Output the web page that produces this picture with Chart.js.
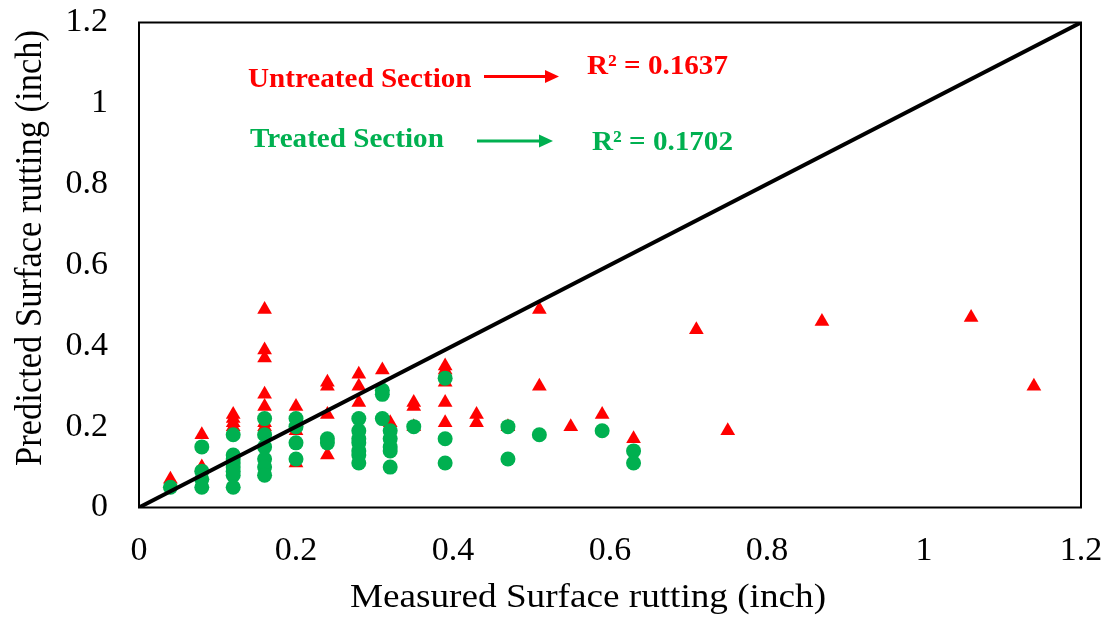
<!DOCTYPE html>
<html><head><meta charset="utf-8">
<script src="https://cdn.jsdelivr.net/npm/chart.js@4/dist/chart.umd.min.js"></script>
<style>html,body{margin:0;padding:0;background:#fff}</style>
</head><body>
<canvas id="c" width="1110" height="621"></canvas>
<script>
// Untreated section (red triangles)
const untreatedX = [0.04, 0.08,0.08, 0.12,0.12,0.12,0.12, 0.16,0.16,0.16,0.16,0.16,0.16,0.16,
  0.20,0.20,0.20,0.20, 0.24,0.24,0.24,0.24, 0.28,0.28,0.28, 0.31, 0.32, 0.35,0.35,0.35,
  0.39,0.39,0.39,0.39,0.39, 0.43,0.43, 0.47, 0.51,0.51, 0.55, 0.59, 0.63, 0.71, 0.75, 0.87, 1.06, 1.14];
const untreatedY = [0.07, 0.18,0.10, 0.23,0.22,0.21,0.20, 0.49,0.39,0.37,0.28,0.25,0.21,0.20,
  0.25,0.21,0.19,0.11, 0.31,0.30,0.23,0.13, 0.33,0.30,0.26, 0.34, 0.21, 0.26,0.25,0.20,
  0.35,0.34,0.31,0.26,0.21, 0.23,0.21, 0.20, 0.49,0.30, 0.20, 0.23, 0.17, 0.44, 0.19, 0.46, 0.47, 0.30];
// Treated section (green circles)
const treatedX = [0.04, 0.08,0.08,0.08,0.08, 0.12,0.12,0.12,0.12,0.12,0.12,0.12,0.12,
  0.16,0.16,0.16,0.16,0.16,0.16, 0.20,0.20,0.20,0.20, 0.24,0.24,
  0.28,0.28,0.28,0.28,0.28,0.28,0.28, 0.31,0.31,0.31, 0.32,0.32,0.32,0.32,0.32,
  0.35, 0.39,0.39,0.39, 0.47,0.47, 0.51, 0.59, 0.63,0.63];
const treatedY = [0.05, 0.15,0.09,0.07,0.05, 0.18,0.13,0.12,0.11,0.10,0.09,0.08,0.05,
  0.22,0.18,0.15,0.12,0.10,0.08, 0.22,0.20,0.16,0.12, 0.17,0.16,
  0.22,0.19,0.17,0.16,0.14,0.13,0.11, 0.29,0.28,0.22, 0.19,0.17,0.15,0.14,0.10,
  0.20, 0.32,0.17,0.11, 0.20,0.12, 0.18, 0.19, 0.14,0.11];
// 1:1 line
const lineX = [0, 1.2];
const lineY = [0, 1.2];
const xTickLabels = ['0','0.2','0.4','0.6','0.8','1','1.2'];
const yTickLabels = ['0','0.2','0.4','0.6','0.8','1','1.2'];
const xTitle = 'Measured Surface rutting (inch)';
const yTitle = 'Predicted Surface rutting (inch)';
const notes = [
  {text:'Untreated Section', color:'#FF0000', x:248, y:87},
  {text:'R\u00B2 = 0.1637', color:'#FF0000', x:587, y:74},
  {text:'Treated Section', color:'#00B050', x:250, y:147},
  {text:'R\u00B2 = 0.1702', color:'#00B050', x:592, y:150}
];
const arrows = [
  {x1:484, x2:559, y:76.5, color:'#FF0000'},
  {x1:477, x2:553, y:141, color:'#00B050'}
];

const pts = (xs, ys) => xs.map((x, i) => ({x, y: ys[i]}));
const SERIF = '"Liberation Serif", "Times New Roman", serif';
const STRETCH = 1.078;

const decor = {
  id: 'decor',
  afterDraw(chart) {
    const ctx = chart.ctx, a = chart.chartArea;
    ctx.save();
    ctx.strokeStyle = '#000'; ctx.lineWidth = 2;
    ctx.strokeRect(a.left, a.top, a.right - a.left, a.bottom - a.top);
    ctx.restore();
    ctx.save();
    ctx.fillStyle = '#000';
    ctx.font = '34.5px ' + SERIF;
    ctx.textAlign = 'center'; ctx.textBaseline = 'middle';
    ctx.translate(588, 598); ctx.scale(STRETCH, 1);
    ctx.fillText(xTitle, 0, 0);
    ctx.restore();
    ctx.save();
    ctx.fillStyle = '#000';
    ctx.font = '34.5px ' + SERIF;
    ctx.textAlign = 'center'; ctx.textBaseline = 'middle';
    ctx.translate(31, 248); ctx.scale(STRETCH, 1); ctx.rotate(-Math.PI / 2);
    ctx.fillText(yTitle, 0, 0);
    ctx.restore();
    ctx.save();
    ctx.font = 'bold 28px ' + SERIF;
    ctx.textAlign = 'left'; ctx.textBaseline = 'alphabetic';
    notes.forEach(n => {
      ctx.save(); ctx.fillStyle = n.color; ctx.translate(n.x, n.y); ctx.scale(1.04, 1);
      ctx.fillText(n.text, 0, 0); ctx.restore();
    });
    arrows.forEach(ar => {
      ctx.strokeStyle = ar.color; ctx.fillStyle = ar.color; ctx.lineWidth = 3;
      ctx.beginPath(); ctx.moveTo(ar.x1, ar.y); ctx.lineTo(ar.x2 - 10, ar.y); ctx.stroke();
      ctx.beginPath(); ctx.moveTo(ar.x2, ar.y); ctx.lineTo(ar.x2 - 14, ar.y - 6.5);
      ctx.lineTo(ar.x2 - 14, ar.y + 6.5); ctx.closePath(); ctx.fill();
    });
    ctx.restore();
  }
};

const zeroPad = s => { s.paddingTop = 0; s.paddingBottom = 0; s.paddingLeft = 0; s.paddingRight = 0; };

new Chart(document.getElementById('c'), {
  type: 'scatter',
  data: {
    datasets: [
      {label: '1:1', type: 'line', data: pts(lineX, lineY), borderColor: '#000', borderWidth: 4,
       pointRadius: 0, fill: false, order: 0},
      {label: 'Treated Section', data: pts(treatedX, treatedY), pointStyle: 'circle',
       pointRadius: 7.5, backgroundColor: '#00B050', borderColor: '#00B050', borderWidth: 0, order: 1},
      {label: 'Untreated Section', data: pts(untreatedX, untreatedY), pointStyle: 'triangle',
       pointRadius: 8.5, backgroundColor: '#FF0000', borderColor: '#FF0000', borderWidth: 0, order: 2}
    ]
  },
  options: {
    responsive: false, animation: false, devicePixelRatio: 1,
    layout: {padding: {left: 0, top: 22.5, right: 29, bottom: 0}},
    plugins: {legend: {display: false}, tooltip: {enabled: false}},
    scales: {
      x: {
        type: 'linear', min: 0, max: 1.2,
        grid: {display: false, drawTicks: false}, border: {display: false},
        ticks: {stepSize: 0.2, padding: 23, color: '#000', font: {family: SERIF, size: 34},
          maxRotation: 0, callback: (v, i) => xTickLabels[i]},
        afterFit: s => { s.height = 113.5; zeroPad(s); }
      },
      y: {
        type: 'linear', min: 0, max: 1.2,
        grid: {display: false, drawTicks: false}, border: {display: false},
        ticks: {stepSize: 0.2, padding: 31, color: '#000', font: {family: SERIF, size: 34},
          callback: (v, i) => yTickLabels[i]},
        afterFit: s => { s.width = 139; zeroPad(s); }
      }
    }
  },
  plugins: [decor]
});
</script>
</body></html>
